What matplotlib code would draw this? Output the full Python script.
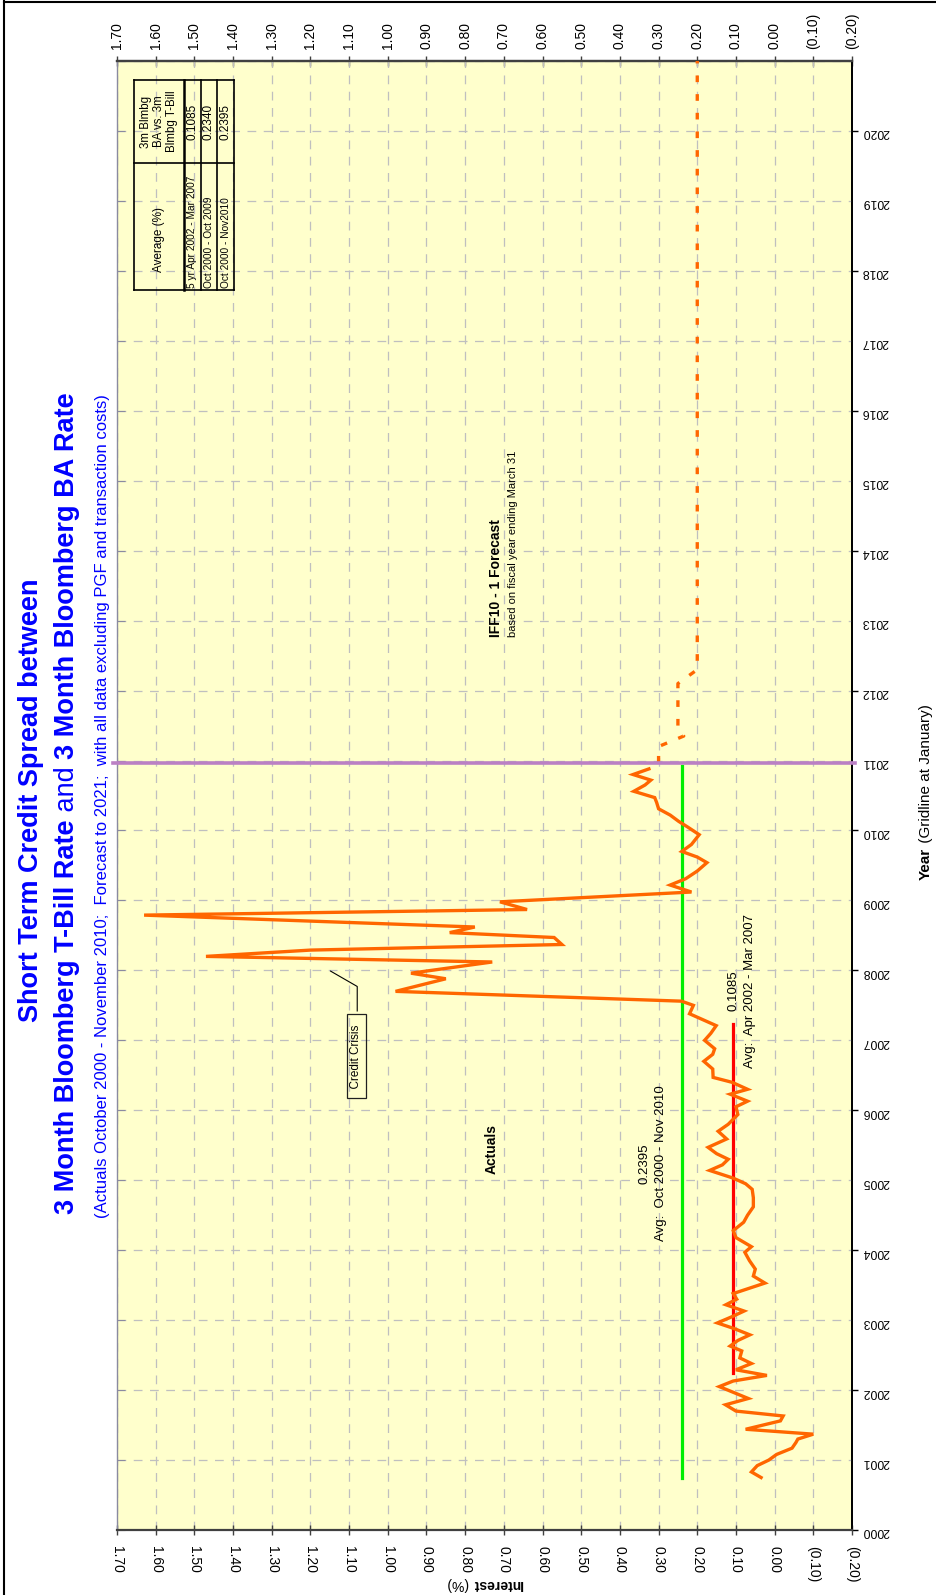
import matplotlib
matplotlib.use("Agg")
import matplotlib.pyplot as plt
from matplotlib.lines import Line2D
from matplotlib.ticker import FuncFormatter
import numpy as np

plt.rcParams['font.family'] = ['Liberation Sans', 'DejaVu Sans']

# ---- data ----
actual_year = [2000.75, 2000.83, 2000.92, 2001.00, 2001.08, 2001.17, 2001.25, 2001.30, 2001.37, 2001.44,
               2001.56, 2001.63, 2001.70, 2001.79, 2001.88, 2002.05, 2002.13, 2002.21, 2002.29, 2002.38,
               2002.46, 2002.56, 2002.63, 2002.71, 2002.79, 2002.88, 2002.96, 2003.05, 2003.13, 2003.22,
               2003.30, 2003.38, 2003.53, 2003.63, 2003.73, 2003.85, 2003.97, 2004.05, 2004.18, 2004.28,
               2004.40, 2004.50, 2004.62, 2004.75, 2004.87, 2004.95, 2005.03, 2005.14, 2005.22, 2005.30,
               2005.38, 2005.47, 2005.59, 2005.70, 2005.80, 2005.94, 2006.05, 2006.13, 2006.23, 2006.30,
               2006.40, 2006.47, 2006.59, 2006.70, 2006.80, 2006.88, 2007.00, 2007.10, 2007.21, 2007.38,
               2007.50, 2007.56, 2007.70, 2007.88, 2007.96, 2008.12, 2008.20, 2008.29, 2008.37, 2008.47,
               2008.54, 2008.62, 2008.79, 2008.87, 2008.98, 2009.12, 2009.22, 2009.31, 2009.42, 2009.54,
               2009.62, 2009.70, 2009.80, 2009.94, 2010.05, 2010.13, 2010.22, 2010.31, 2010.40, 2010.47,
               2010.56, 2010.65, 2010.72, 2010.80, 2010.88]
actual_val = [0.035, 0.060, 0.045, 0.015, -0.005, -0.045, -0.055, -0.060, -0.100, 0.075,
              -0.015, -0.022, 0.100, 0.127, 0.068, 0.143, 0.107, 0.020, 0.100, 0.060,
              0.090, 0.085, 0.115, 0.095, 0.064, 0.105, 0.148, 0.110, 0.079, 0.126,
              0.098, 0.107, 0.025, 0.055, 0.050, 0.065, 0.077, 0.060, 0.100, 0.107,
              0.080, 0.070, 0.055, 0.055, 0.058, 0.075, 0.107, 0.168, 0.135, 0.120,
              0.150, 0.172, 0.124, 0.146, 0.120, 0.095, 0.100, 0.070, 0.115, 0.070,
              0.110, 0.159, 0.160, 0.183, 0.160, 0.155, 0.181, 0.165, 0.151, 0.220,
              0.210, 0.241, 0.980, 0.850, 0.940, 0.730, 1.470, 1.200, 0.550, 0.570,
              0.840, 0.775, 1.630, 0.640, 0.710, 0.215, 0.270, 0.230, 0.200, 0.175,
              0.200, 0.240, 0.215, 0.195, 0.225, 0.248, 0.270, 0.300, 0.305, 0.310,
              0.364, 0.335, 0.320, 0.366, 0.325]

forecast_year = [2010.97, 2011.20, 2011.35, 2011.40, 2011.45, 2012.10, 2012.30, 2021.0]
forecast_val = [0.30, 0.30, 0.235, 0.24, 0.25, 0.25, 0.20, 0.20]

avg_all = 0.2395
avg_all_span = [2000.75, 2010.92]
avg_5yr = 0.1085
avg_5yr_span = [2002.25, 2007.23]
split_year = 2010.97

table_rows = ["5 yr Apr 2002 - Mar 2007", "Oct 2000 - Oct 2009", "Oct 2000 - Nov2010"]
table_vals = ["0.1085", "0.2340", "0.2395"]

interest_ticks = np.round(np.arange(-0.20, 1.71, 0.10), 2)
year_ticks = np.arange(2000, 2022)
year_labels = [str(y) if y <= 2020 else "" for y in year_ticks]

W, H = 936, 1595
fig = plt.figure(figsize=(W / 100, H / 100), dpi=100)
renderer = fig.canvas.get_renderer()


def px(x, y):
    return x / W, 1 - y / H


ax = fig.add_axes([117 / W, 1 - 1530 / H, (852 - 117) / W, (1530 - 61) / H])
ax.set_facecolor('#ffffcc')
ax.set_xlim(1.70, -0.20)
ax.set_ylim(2000, 2021)
ax.set_axisbelow(True)


def fmt(v, pos=None):
    v = round(v, 2)
    return "({:.2f})".format(-v) if v < 0 else "{:.2f}".format(v)


ax.set_xticks(interest_ticks)
ax.xaxis.set_major_formatter(FuncFormatter(fmt))
ax.tick_params(axis='x', top=False, labeltop=False, bottom=True, labelbottom=True,
               direction='inout', length=7, width=1, color='#404040', pad=8,
               labelsize=10, labelrotation=270)

sec_top = ax.secondary_xaxis('top')
sec_top.set_xticks(interest_ticks)
sec_top.xaxis.set_major_formatter(FuncFormatter(fmt))
sec_top.tick_params(direction='inout', length=7, width=1, color='#404040', pad=5,
                    labelsize=10, labelrotation=90)
sec_top.spines['top'].set_color('#404040')
sec_top.spines['top'].set_linewidth(1.6)

ax.set_yticks(year_ticks)
ax.set_yticklabels(year_labels)
ax.tick_params(axis='y', left=True, right=False, labelleft=False, labelright=True,
               direction='in', length=6, color='#8a8aa0', pad=7, labelsize=8.7,
               labelrotation=180)

sec_r = ax.secondary_yaxis('right')
sec_r.set_yticks(year_ticks[::2])
sec_r.tick_params(direction='out', length=4, width=1, labelright=False, labelleft=False)
sec_r.spines['right'].set_linewidth(1.3)

ax.spines['left'].set_color('#8a8aa0')
ax.spines['left'].set_linewidth(1.0)
ax.spines['bottom'].set_color('#404040')
ax.spines['bottom'].set_linewidth(1.6)
ax.spines['top'].set_color('#404040')
ax.spines['top'].set_linewidth(1.6)
ax.spines['right'].set_linewidth(1.3)

ax.grid(True, color='#bfbfbf', linestyle=(0, (7, 6)), linewidth=0.9)

# ---- series ----
ax.plot(actual_val, actual_year, color='#ff6600', lw=2.4, solid_joinstyle='miter', zorder=4)
ax.plot(forecast_val, forecast_year, color='#ff6600', lw=2.4,
        linestyle=(0, (2.0, 3.6)), dash_capstyle='butt', zorder=4)
ax.plot([avg_all, avg_all], avg_all_span, color='#00ee00', lw=2.3, zorder=3)
ax.plot([avg_5yr, avg_5yr], avg_5yr_span, color='#ff0000', lw=2.3, zorder=3)
ax.axhline(split_year, xmin=-0.006, xmax=1.004, color='#bb80c4', lw=2.6, clip_on=False, zorder=5)

# ---- annotations in data space ----
ax.text(0.731, 2005.45, "Actuals", rotation=90, ha='center', va='center',
        fontsize=10, fontweight='bold')
ax.text(0.719, 2012.76, "IFF10 - 1 Forecast", rotation=90, rotation_mode='anchor',
        ha='left', va='center', fontsize=10, fontweight='bold')
ax.text(0.676, 2012.76, "based on fiscal year ending March 31", rotation=90,
        rotation_mode='anchor', ha='left', va='center', fontsize=8)
ax.text(0.315, 2005.24, "{:.4f}\nAvg:  Oct 2000 - Nov 2010".format(avg_all), rotation=90,
        ha='center', va='center', multialignment='center', fontsize=9.5, linespacing=1.45)
ax.text(0.085, 2007.71, "{:.4f}\nAvg:  Apr 2002 - Mar 2007".format(avg_5yr), rotation=90,
        ha='center', va='center', multialignment='center', fontsize=9.5, linespacing=1.45)

ax.text(1.081, 2006.77, "  Credit Crisis  ", rotation=90, ha='center', va='center', fontsize=8.5,
        bbox=dict(boxstyle='square,pad=0.3', fc='none', ec='#202020', lw=0.9))
ax.plot([1.079, 1.079, 1.148], [2007.42, 2007.77, 2007.99], color='black', lw=0.8)

# ---- rotated multi-part text helper ----
def seg_len(s, **kw):
    t = fig.text(0, 0, "|" + s + "|", **kw)
    a = t.get_window_extent(renderer).width
    t.remove()
    t = fig.text(0, 0, "||", **kw)
    b = t.get_window_extent(renderer).width
    t.remove()
    return a - b


def parts_text(x, yc, parts, rotation, size, color='black'):
    lens = [seg_len(s, fontsize=size, fontweight=w) for s, w in parts]
    total = sum(lens)
    if rotation == 90:
        pos = yc + total / 2  # pixel y from top, text runs upward
        for (s, w), L in zip(parts, lens):
            fig.text(*px(x, pos), s, rotation=90, rotation_mode='anchor', ha='left',
                     va='center', fontsize=size, fontweight=w, color=color)
            pos -= L
    else:
        pos = x + total / 2  # text runs leftward
        for (s, w), L in zip(parts, lens):
            fig.text(*px(pos, yc), s, rotation=180, rotation_mode='anchor', ha='left',
                     va='center', fontsize=size, fontweight=w, color=color)
            pos -= L


blue = '#0000ff'
parts_text(31, 800, [("Short Term Credit Spread between", 'bold')], 90, 19.5, blue)
parts_text(67, 803, [("3 Month Bloomberg T-Bill Rate", 'bold'), (" and ", 'normal'),
                     ("3 Month Bloomberg BA Rate", 'bold')], 90, 19.5, blue)
parts_text(102, 806, [("(Actuals October 2000 - November 2010;  Forecast to 2021;  "
                       "with all data excluding PGF and transaction costs)", 'normal')], 90, 12, blue)
parts_text(926, 792, [("Year", 'bold'), (" (Gridline at January)", 'normal')], 90, 11)
parts_text(485, 1584, [("Interest", 'bold'), (" (%)", 'normal')], 180, 10)

# ---- average table ----
tx = [134.3, 184, 200.7, 217.3, 234.3]
ty = [80, 163.3, 290]
for i, x in enumerate(tx):
    fig.add_artist(Line2D([x / W] * 2, [1 - ty[0] / H, 1 - ty[2] / H], color='black',
                          lw=1.8 if i == 1 else 1.2))
for y in (ty[0], ty[1], ty[2]):
    fig.add_artist(Line2D([tx[0] / W, tx[-1] / W], [1 - y / H] * 2, color='black', lw=1.2))

fig.text(*px(159, 121.5), "3m Blmbg\nBA vs. 3m\nBlmbg T-Bill", rotation=90, ha='center',
         va='center', multialignment='center', fontsize=8.3, linespacing=1.15)
fig.text(*px(159, 240), "Average (%)", rotation=90, ha='center', va='center', fontsize=8.5)
for i, (lab, val) in enumerate(zip(table_rows, table_vals)):
    xc = (tx[i + 1] + tx[i + 2]) / 2
    fig.text(*px(xc, 121.5), val, rotation=90, ha='center', va='center', fontsize=8.5)
    fig.text(*px(xc, 288), lab, rotation=90, rotation_mode='anchor', ha='left',
             va='center', fontsize=7.3)

# figure frame
fig.add_artist(Line2D([4 / W, 4 / W], [0, 1], color='black', lw=1.5))
fig.add_artist(Line2D([4 / W, 1], [1 - 1.5 / H] * 2, color='black', lw=1.5))

fig.savefig("out.png", dpi=100)
